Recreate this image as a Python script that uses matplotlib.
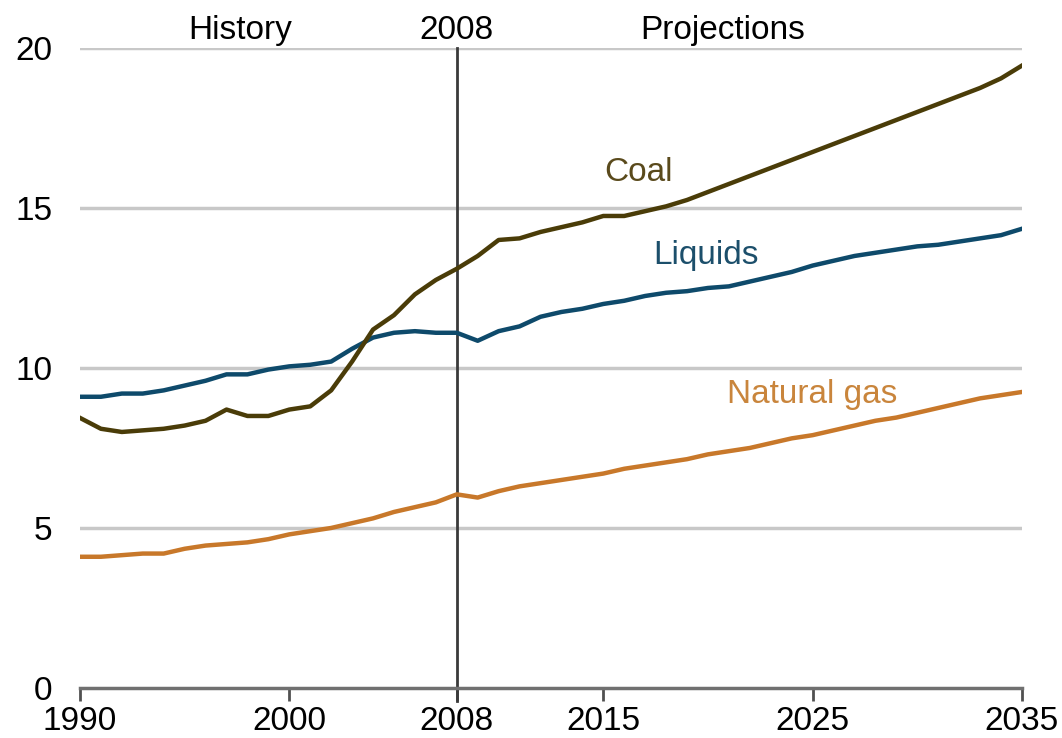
import matplotlib.pyplot as plt
import matplotlib.transforms as mtransforms

plt.rcParams['font.family'] = ['Liberation Sans', 'DejaVu Sans']

years = list(range(1990, 2036))
coal = [8.44, 8.1, 8.0, 8.05, 8.1, 8.2, 8.35, 8.7, 8.5, 8.5,
        8.7, 8.8, 9.3, 10.2, 11.2, 11.65, 12.3, 12.75, 13.1, 13.5,
        14.0, 14.05, 14.25, 14.4, 14.55, 14.75, 14.75, 14.9, 15.05, 15.25,
        15.5, 15.75, 16.0, 16.25, 16.5, 16.75, 17.0, 17.25, 17.5, 17.75,
        18.0, 18.25, 18.5, 18.75, 19.05, 19.45]
liquids = [9.1, 9.1, 9.2, 9.2, 9.3, 9.45, 9.6, 9.8, 9.8, 9.95,
           10.05, 10.1, 10.2, 10.6, 10.95, 11.1, 11.15, 11.1, 11.1, 10.85,
           11.15, 11.3, 11.6, 11.75, 11.85, 12.0, 12.1, 12.25, 12.35, 12.4,
           12.5, 12.55, 12.7, 12.85, 13.0, 13.2, 13.35, 13.5, 13.6, 13.7,
           13.8, 13.85, 13.95, 14.05, 14.15, 14.35]
gas = [4.1, 4.1, 4.15, 4.2, 4.2, 4.35, 4.45, 4.5, 4.55, 4.65,
       4.8, 4.9, 5.0, 5.15, 5.3, 5.5, 5.65, 5.8, 6.05, 5.95,
       6.15, 6.3, 6.4, 6.5, 6.6, 6.7, 6.85, 6.95, 7.05, 7.15,
       7.3, 7.4, 7.5, 7.65, 7.8, 7.9, 8.05, 8.2, 8.35, 8.45,
       8.6, 8.75, 8.9, 9.05, 9.15, 9.25]

xticks = [1990, 2000, 2008, 2015, 2025, 2035]
yticks = [0, 5, 10, 15, 20]

fig = plt.figure(figsize=(10.62, 7.38), dpi=100)
ax = fig.add_axes([0.0753, 0.0678, 0.887, 0.8672])

for y in yticks[1:]:
    ax.axhline(y, color='#c8c8c8', lw=2.5, zorder=1)

ax.axvline(2008, ymin=-0.02, ymax=1, color='#3a3a3a', lw=2, clip_on=False, zorder=2)

ax.plot(years, gas, color='#c8782a', lw=3.2, zorder=3)
ax.plot(years, liquids, color='#0e4a6b', lw=3.2, zorder=3)
ax.plot(years, coal, color='#4a3c08', lw=3.2, zorder=4)

ax.text(2016.7, 16.1, 'Coal', color='#5a4a1c', fontsize=24, ha='center', va='center')
ax.text(2019.9, 13.53, 'Liquids', color='#1c4f6b', fontsize=24, ha='center', va='center')
ax.text(2025.0, 9.16, 'Natural gas', color='#c9853c', fontsize=24, ha='center', va='center')

trans = mtransforms.blended_transform_factory(ax.transData, ax.transAxes)
ax.text(1997.65, 1.028, 'History', transform=trans, ha='center', va='center', fontsize=24)
ax.text(1998 + 10, 1.028, '2008', transform=trans, ha='center', va='center', fontsize=24)
ax.text(2020.7, 1.028, 'Projections', transform=trans, ha='center', va='center', fontsize=24)

ax.set_xlim(1990, 2035)
ax.set_ylim(0, 20)
ax.set_xticks(xticks)
ax.set_yticks(yticks)
for s in ['top', 'right', 'left']:
    ax.spines[s].set_visible(False)
ax.spines['bottom'].set_color('#707070')
ax.spines['bottom'].set_linewidth(2.5)
ax.tick_params(axis='x', length=9, width=2, color='#505050', labelsize=24, pad=4)
ax.tick_params(axis='y', length=0, labelsize=24, pad=20)

plt.savefig('out.png', dpi=100)
